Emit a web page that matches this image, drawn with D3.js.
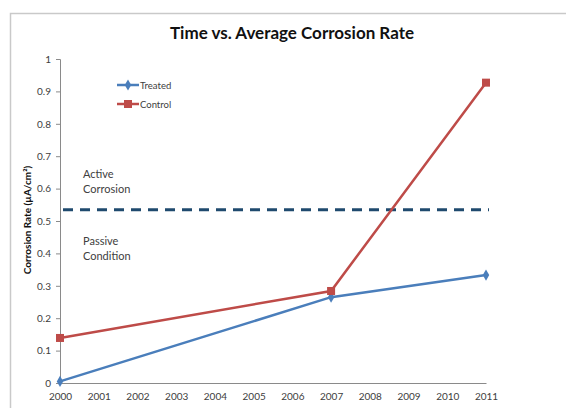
<!DOCTYPE html>
<html><head><meta charset="utf-8">
<script src="https://cdn.jsdelivr.net/npm/d3@7/dist/d3.min.js"></script>
<style>body{margin:0;background:#fff}svg{display:block}</style>
</head><body>
<svg id="c" width="566" height="408"></svg>
<script>
const years = [2000, 2001, 2002, 2003, 2004, 2005, 2006, 2007, 2008, 2009, 2010, 2011];
const treatedYears = [2000, 2007, 2011];
const treatedValues = [0.005, 0.265, 0.333];
const controlYears = [2000, 2007, 2011];
const controlValues = [0.139, 0.284, 0.927];
const yTicks = [0, 0.1, 0.2, 0.3, 0.4, 0.5, 0.6, 0.7, 0.8, 0.9, 1];
const thresholdValue = 0.535;
const title = "Time vs. Average Corrosion Rate";
const yLabel = "Corrosion Rate (µA/cm²)";
const seriesNames = ["Treated", "Control"];

const svg = d3.select("#c");
const font = "Lato, 'Open Sans', sans-serif";

// sheet frame
svg.append("path").attr("d","M10.5,408 V13.5 H566").attr("fill","none").attr("stroke","#c9c9c9").attr("stroke-width",1.5);

const x = d3.scaleLinear().domain([2000, 2011]).range([60, 486]);
const y = d3.scaleLinear().domain([0, 1]).range([383, 59]);

// title
svg.append("text").attr("x", 292).attr("y", 39).attr("text-anchor","middle")
  .attr("font-family", font).attr("font-weight","bold").attr("font-size", 17).attr("fill","#111")
  .text(title);

// y axis
const yAxis = svg.append("g").attr("transform","translate(60,0)")
  .call(d3.axisLeft(y).tickValues(yTicks).tickSize(4).tickPadding(5).tickFormat(d => d3.format("")(+d.toFixed(1))));
yAxis.select(".domain").attr("stroke","#8a8a8a");
yAxis.selectAll(".tick line").attr("stroke","#8a8a8a");
yAxis.selectAll("text").attr("font-family", font).attr("font-size", 10).attr("fill","#404040");

// x axis
const xAxis = svg.append("g").attr("transform","translate(0,383)")
  .call(d3.axisBottom(x).tickValues(years).tickSize(0).tickPadding(10).tickFormat(d3.format("d")));
xAxis.select(".domain").attr("stroke","#8a8a8a");
xAxis.selectAll("text").attr("font-family", font).attr("font-size", 10).attr("fill","#404040");

// y label
svg.append("text").attr("transform","translate(31,220) rotate(-90)").attr("text-anchor","middle")
  .attr("font-family", font).attr("font-weight","bold").attr("font-size", 10).attr("fill","#111")
  .text(yLabel);

// threshold
svg.append("line").attr("x1", x(2000)+3).attr("x2", x(2011)+3).attr("y1", y(thresholdValue)).attr("y2", y(thresholdValue))
  .attr("stroke","#1f4a6e").attr("stroke-width",3).attr("stroke-dasharray","10,7");

// annotations
const ann = [["Active", 174], ["Corrosion", 189], ["Passive", 241], ["Condition", 256]];
svg.selectAll("text.ann").data(ann).enter().append("text").attr("class","ann")
  .attr("x", 83).attr("y", d => d[1]+4).attr("font-family", font).attr("font-size", 11).attr("fill","#404040")
  .text(d => d[0]);

const line = d3.line().x(d => x(d[0])).y(d => y(d[1]));
const treated = treatedYears.map((yr,i) => [yr, treatedValues[i]]);
const control = controlYears.map((yr,i) => [yr, controlValues[i]]);
const blue = "#4a7ebb", red = "#be4b48";

svg.append("path").datum(treated).attr("d", line).attr("fill","none").attr("stroke", blue).attr("stroke-width", 2.5);
svg.append("path").datum(control).attr("d", line).attr("fill","none").attr("stroke", red).attr("stroke-width", 2.5);

const diamond = d3.symbol().type(d3.symbolDiamond).size(36);
svg.selectAll("path.tm").data(treated).enter().append("path").attr("class","tm")
  .attr("d", diamond).attr("transform", d => `translate(${x(d[0])},${y(d[1])})`).attr("fill", blue);
svg.selectAll("rect.cm").data(control).enter().append("rect").attr("class","cm")
  .attr("x", d => x(d[0])-4).attr("y", d => y(d[1])-4).attr("width", 8).attr("height", 8).attr("fill", red);

// legend
const leg = svg.append("g");
[[seriesNames[0], blue, 85, "d"], [seriesNames[1], red, 104, "s"]].forEach(([name, col, ly, m]) => {
  leg.append("line").attr("x1",117).attr("x2",139).attr("y1",ly).attr("y2",ly).attr("stroke",col).attr("stroke-width",2.5);
  if (m === "d") leg.append("path").attr("d", diamond).attr("transform",`translate(128,${ly})`).attr("fill",col);
  else leg.append("rect").attr("x",124).attr("y",ly-4).attr("width",8).attr("height",8).attr("fill",col);
  leg.append("text").attr("x",140).attr("y",ly+3.5).attr("font-family",font).attr("font-size",9.5).attr("fill","#404040").text(name);
});
</script>
</body></html>
